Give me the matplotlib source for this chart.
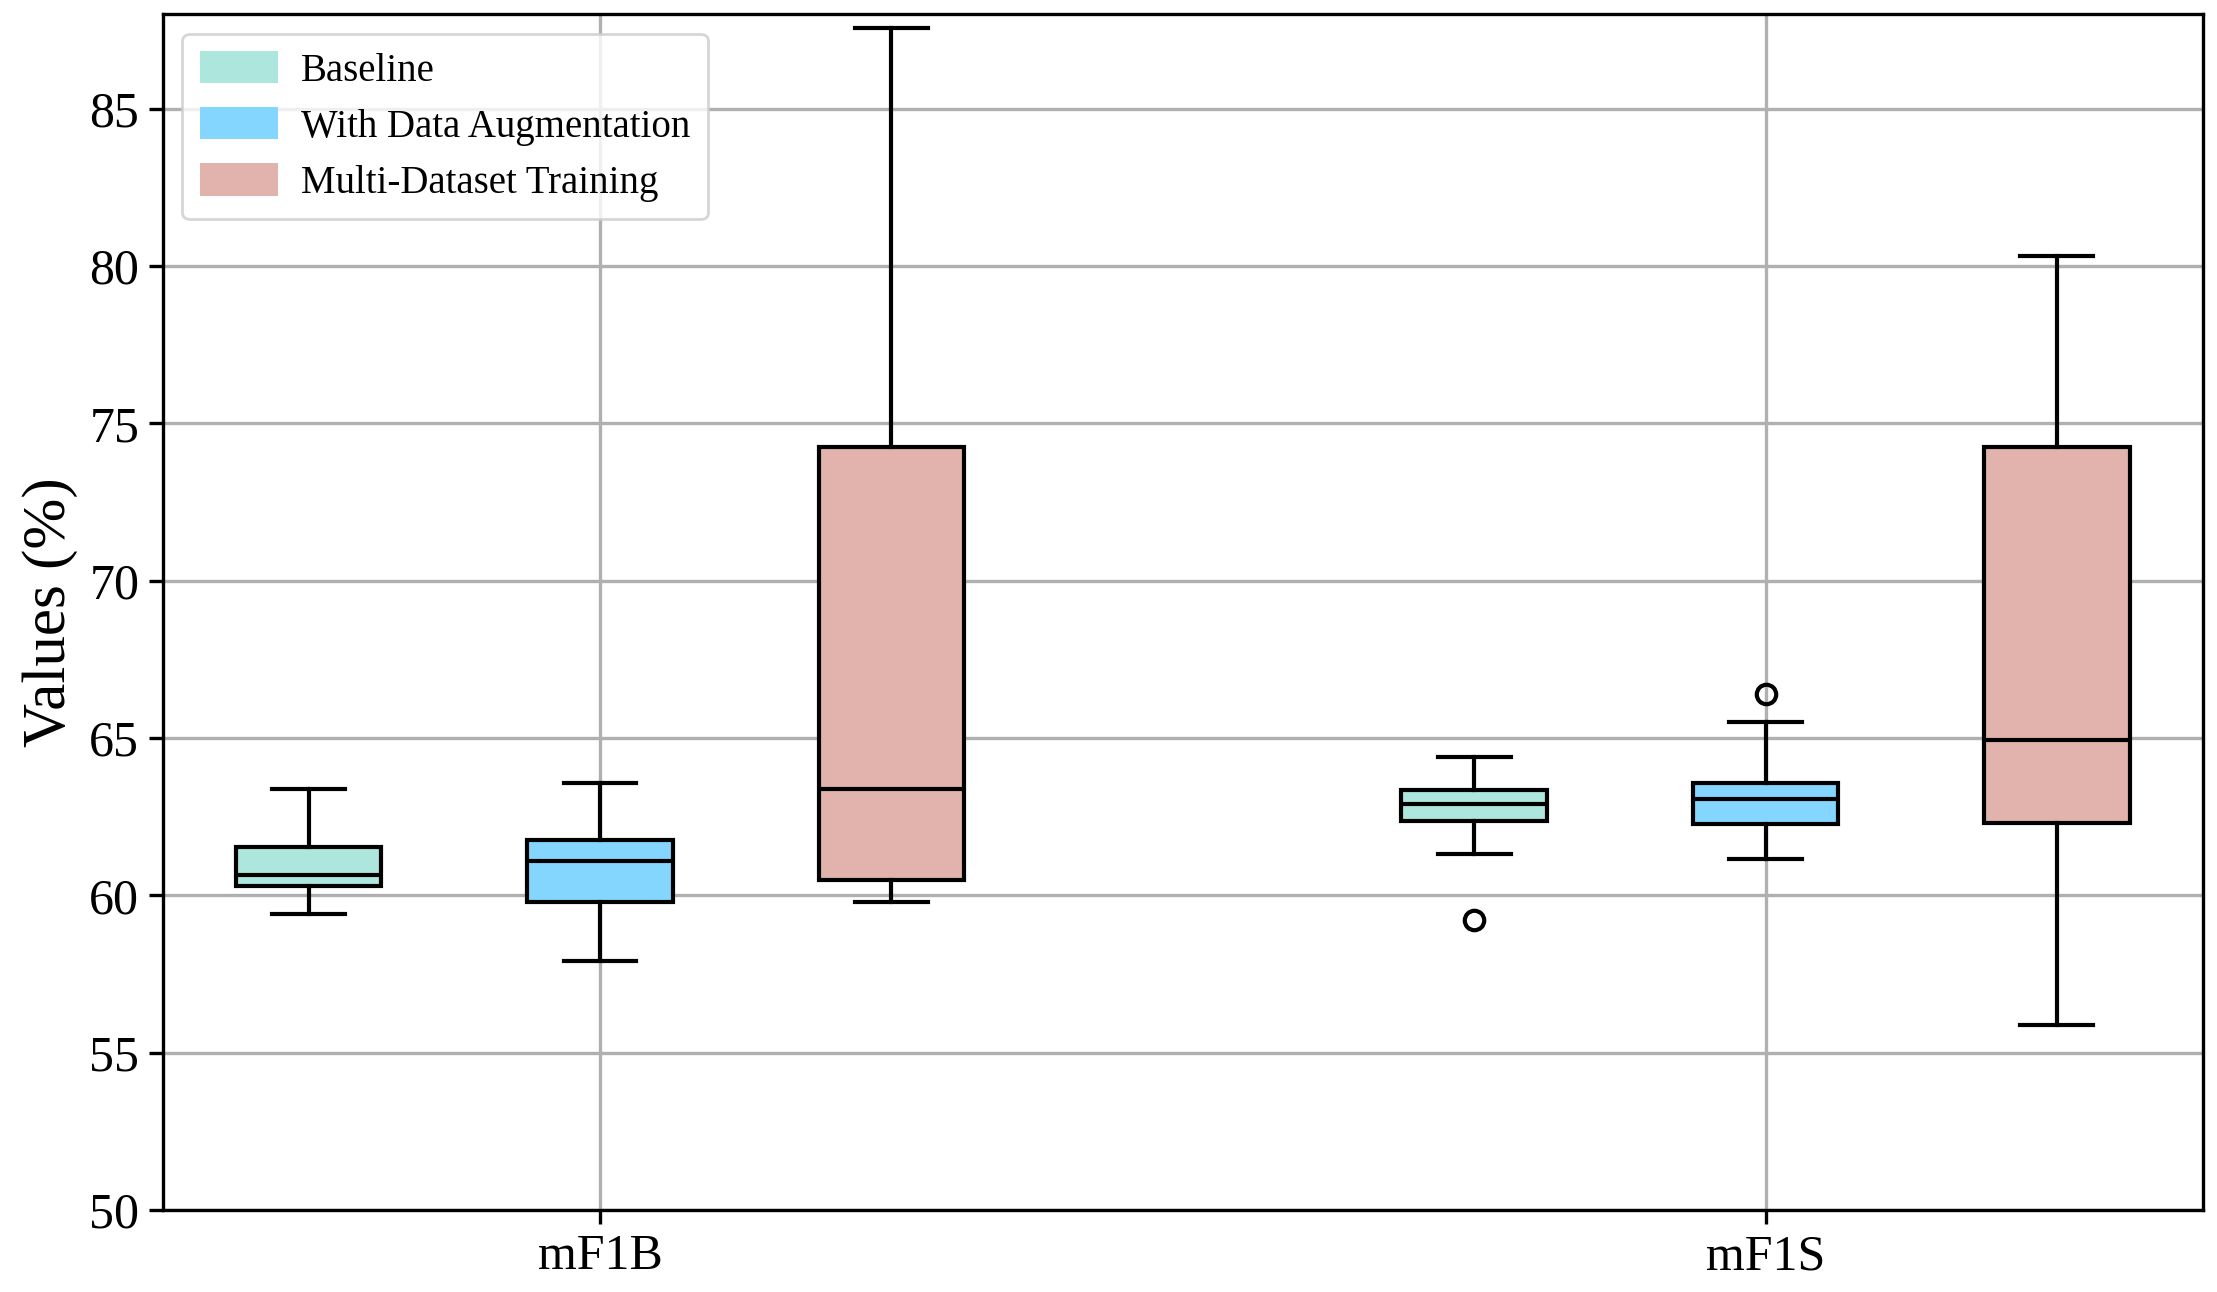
import matplotlib
matplotlib.use("Agg")
import matplotlib.pyplot as plt
from matplotlib.patches import Patch

plt.rcParams['font.family'] = ['Liberation Serif', 'DejaVu Serif']
plt.rcParams['mathtext.fontset'] = 'stix'

metrics = ["mF1B", "mF1S"]
methods = ["Baseline", "With Data Augmentation", "Multi-Dataset Training"]
colors = ["#ade6dc", "#84d6fe", "#e2b3ac"]

# per method: [mF1B, mF1S]
whislo = {"Baseline": [59.39, 61.32], "With Data Augmentation": [57.91, 61.14], "Multi-Dataset Training": [59.79, 55.88]}
q1 = {"Baseline": [60.29, 62.35], "With Data Augmentation": [59.79, 62.26], "Multi-Dataset Training": [60.47, 62.31]}
med = {"Baseline": [60.65, 62.89], "With Data Augmentation": [61.10, 63.07], "Multi-Dataset Training": [63.39, 64.93]}
q3 = {"Baseline": [61.55, 63.34], "With Data Augmentation": [61.77, 63.57], "Multi-Dataset Training": [74.26, 74.26]}
whishi = {"Baseline": [63.39, 64.38], "With Data Augmentation": [63.57, 65.50], "Multi-Dataset Training": [87.56, 80.32]}
fliers = {"Baseline": [[], [59.21]], "With Data Augmentation": [[], [66.40]], "Multi-Dataset Training": [[], []]}

yticks = [50, 55, 60, 65, 70, 75, 80, 85]

fig = plt.figure(figsize=(11.085, 6.46), dpi=200)
ax = fig.add_axes([0.0735, 0.0635, 0.92, 0.9255])

offsets = [-0.25, 0.0, 0.25]
width = 0.125
for k, m in enumerate(methods):
    stats = []
    for i in range(len(metrics)):
        stats.append(dict(whislo=whislo[m][i], q1=q1[m][i], med=med[m][i],
                          q3=q3[m][i], whishi=whishi[m][i], fliers=fliers[m][i]))
    pos = [i + offsets[k] for i in range(len(metrics))]
    ax.bxp(stats, positions=pos, widths=width, patch_artist=True, showfliers=True,
           boxprops=dict(facecolor=colors[k], edgecolor='black', linewidth=1.5),
           medianprops=dict(color='black', linewidth=1.5),
           whiskerprops=dict(color='black', linewidth=1.5),
           capprops=dict(color='black', linewidth=1.5),
           flierprops=dict(marker='o', markerfacecolor='none', markeredgecolor='black',
                           markersize=7, markeredgewidth=1.5),
           zorder=3)

ax.set_xticks(range(len(metrics)))
ax.set_xticklabels(metrics, fontsize=18)
ax.set_xlim(-0.375, 1.375)
ax.set_ylim(50, 88)
ax.set_yticks(yticks)
ax.set_yticklabels([str(t) for t in yticks], fontsize=18)
ax.set_ylabel("Values (%)", fontsize=22)
ax.grid(True, color='#b0b0b0', linewidth=1.2, zorder=0)
ax.set_axisbelow(True)
for s in ax.spines.values():
    s.set_linewidth(1.2)
ax.tick_params(width=1.2, length=5)

handles = [Patch(facecolor=c, edgecolor='none', label=m) for c, m in zip(colors, methods)]
ax.legend(handles=handles, loc='upper left', fontsize=14, framealpha=0.8,
          handlelength=2.0, handleheight=0.9, borderpad=0.45, labelspacing=0.45,
          handletextpad=0.6)

fig.savefig("out.png", dpi=200)
